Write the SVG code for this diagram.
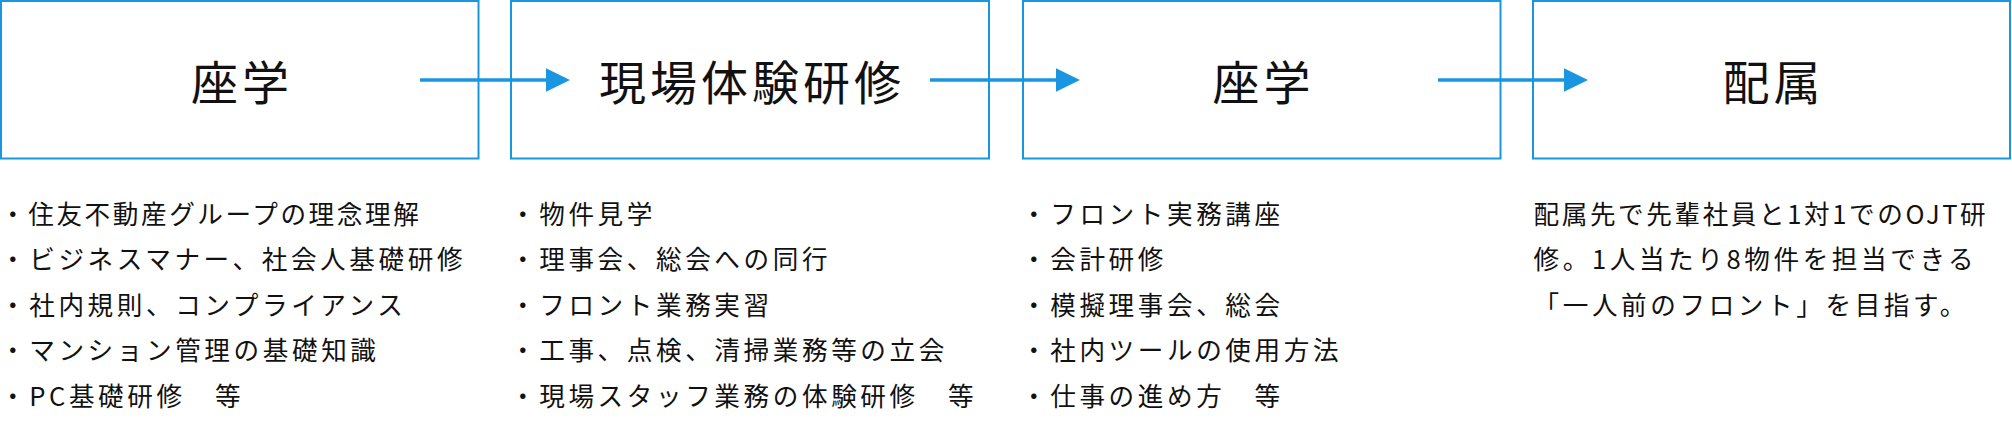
<svg xmlns="http://www.w3.org/2000/svg" width="2012" height="422" viewBox="0 0 2012 422">
<style>
.box{fill:#fff;stroke:#1a96e1;stroke-width:2}
.title{font-family:"Noto Sans CJK JP",sans-serif;font-size:47px;letter-spacing:4px;fill:#111;text-anchor:middle}
.item{font-family:"Noto Sans CJK JP",sans-serif;font-size:25.6px;letter-spacing:3.6px;fill:#111}
.tight{letter-spacing:2.6px}
.conn{stroke:#1a96e1;stroke-width:3.4;fill:none}
</style>
<defs>
<marker id="ah" markerUnits="userSpaceOnUse" markerWidth="25" markerHeight="24" refX="0" refY="11.7" orient="auto">
<path d="M0,0 L24,11.7 L0,23.4 Z" fill="#1a96e1"/>
</marker>
</defs>
<rect width="2012" height="422" fill="#fff"/>
<g id="node-zagaku1">
<rect class="box" x="1" y="1" width="477.5" height="157.5"/>
<text class="title" x="242" y="100">座学</text>
<g class="item">
<text class="tight" x="0" y="223.5">・住友不動産グループの理念理解</text>
<text x="0" y="269">・ビジネスマナー、社会人基礎研修</text>
<text x="0" y="314.5">・社内規則、コンプライアンス</text>
<text x="0" y="360">・マンション管理の基礎知識</text>
<text x="0" y="405.5">・PC基礎研修　等</text>
</g>
</g>
<g id="node-genba">
<rect class="box" x="511" y="1" width="478" height="157.5"/>
<text class="title" x="752" y="100">現場体験研修</text>
<g class="item">
<text x="510" y="223.5">・物件見学</text>
<text x="510" y="269">・理事会、総会への同行</text>
<text x="510" y="314.5">・フロント業務実習</text>
<text x="510" y="360">・工事、点検、清掃業務等の立会</text>
<text x="510" y="405.5">・現場スタッフ業務の体験研修　等</text>
</g>
</g>
<g id="node-zagaku2">
<rect class="box" x="1023" y="1" width="477.5" height="157.5"/>
<text class="title" x="1263.5" y="100">座学</text>
<g class="item">
<text x="1021" y="223.5">・フロント実務講座</text>
<text x="1021" y="269">・会計研修</text>
<text x="1021" y="314.5">・模擬理事会、総会</text>
<text x="1021" y="360">・社内ツールの使用方法</text>
<text x="1021" y="405.5">・仕事の進め方　等</text>
</g>
</g>
<g id="node-haizoku">
<rect class="box" x="1533" y="1" width="477" height="157.5"/>
<text class="title" x="1773.5" y="100">配属</text>
<g class="item">
<text class="tight" x="1533.5" y="223.5">配属先で先輩社員と1対1でのOJT研</text>
<text x="1533.5" y="269">修。1人当たり8物件を担当できる</text>
<text x="1533.5" y="314.5">「一人前のフロント」を目指す。</text>
</g>
</g>
<g id="connectors">
<line class="conn" x1="420" y1="80" x2="546" y2="80" marker-end="url(#ah)"/>
<line class="conn" x1="930" y1="80" x2="1056" y2="80" marker-end="url(#ah)"/>
<line class="conn" x1="1438" y1="80" x2="1564" y2="80" marker-end="url(#ah)"/>
</g>
</svg>
